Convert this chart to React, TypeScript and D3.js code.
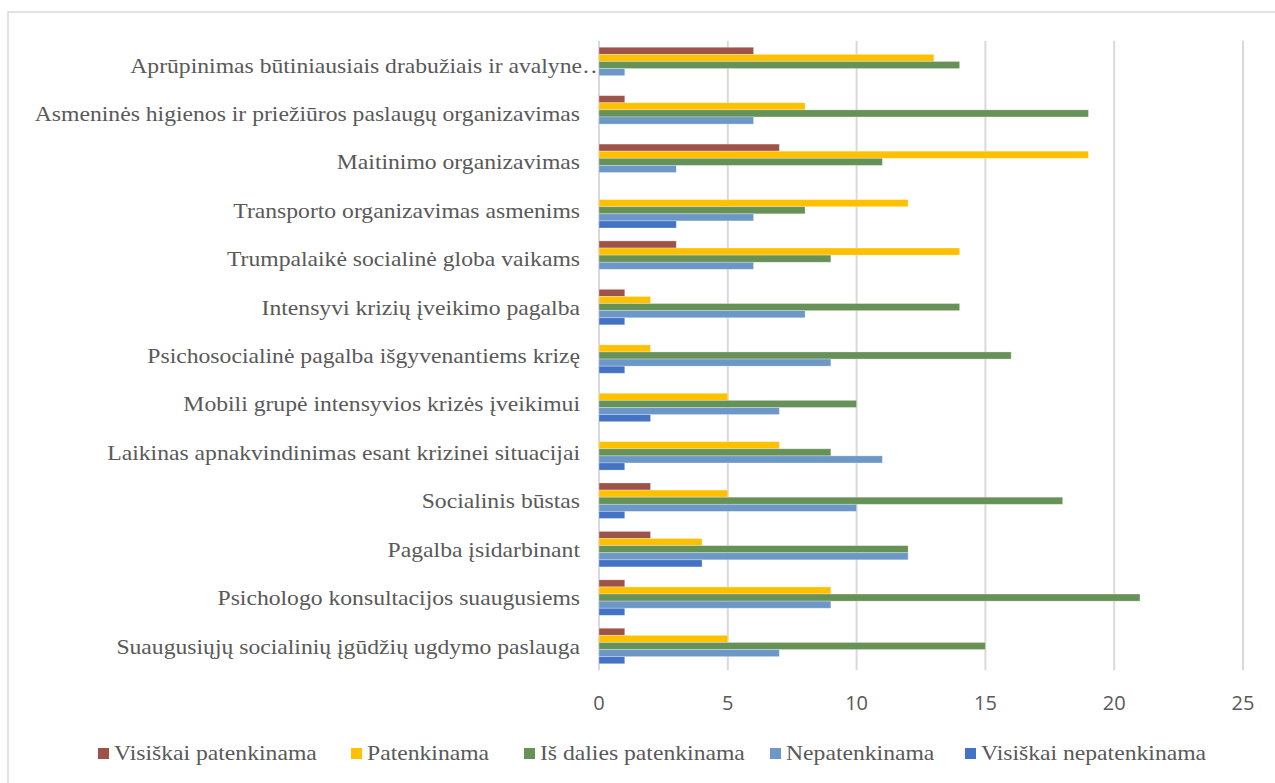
import React from "react";
import * as d3 from "d3";

const categories = [
  "Aprūpinimas būtiniausiais drabužiais ir avalyne",
  "Asmeninės higienos ir priežiūros paslaugų organizavimas",
  "Maitinimo organizavimas",
  "Transporto organizavimas asmenims",
  "Trumpalaikė socialinė globa vaikams",
  "Intensyvi krizių įveikimo pagalba",
  "Psichosocialinė pagalba išgyvenantiems krizę",
  "Mobili grupė intensyvios krizės įveikimui",
  "Laikinas apnakvindinimas esant krizinei situacijai",
  "Socialinis būstas",
  "Pagalba įsidarbinant",
  "Psichologo konsultacijos suaugusiems",
  "Suaugusiųjų socialinių įgūdžių ugdymo paslauga",
];
const truncated = [true, false, false, false, false, false, false, false, false, false, false, false, false];

const seriesNames = [
  "Visiškai patenkinama",
  "Patenkinama",
  "Iš dalies patenkinama",
  "Nepatenkinama",
  "Visiškai nepatenkinama",
];
const seriesColors = ["#9E5349", "#FFC000", "#669157", "#6C97C6", "#4472C4"];

const visiskaiPatenkinama = [6, 1, 7, 0, 3, 1, 0, 0, 0, 2, 2, 1, 1];
const patenkinama = [13, 8, 19, 12, 14, 2, 2, 5, 7, 5, 4, 9, 5];
const isDaliesPatenkinama = [14, 19, 11, 8, 9, 14, 16, 10, 9, 18, 12, 21, 15];
const nepatenkinama = [1, 6, 3, 6, 6, 8, 9, 7, 11, 10, 12, 9, 7];
const visiskaiNepatenkinama = [0, 0, 0, 3, 0, 1, 1, 2, 1, 1, 4, 1, 1];
const seriesValues = [
  visiskaiPatenkinama,
  patenkinama,
  isDaliesPatenkinama,
  nepatenkinama,
  visiskaiNepatenkinama,
];

const xTicks = [0, 5, 10, 15, 20, 25];

const legendX = [98, 351, 524, 770, 965];

const SERIF = "'Liberation Serif', 'Times New Roman', serif";

export default function App() {
  const W = 1275;
  const H = 783;
  const x = d3.scaleLinear().domain([0, 25]).range([599, 1243]);
  const y = d3.scaleBand<string>().domain(categories).range([40.8, 670.2]).padding(0);
  const bw = y.bandwidth();
  const barH = 7.1;
  const inner = d3
    .scaleBand<number>()
    .domain(d3.range(seriesNames.length))
    .range([(bw - barH * 5) / 2, (bw + barH * 5) / 2]);

  const grey = "#595959";
  const fs = 21.5;
  const sx = 1.1;
  return (
    <svg
      width={W}
      height={H}
      style={{ position: "absolute", left: 0, top: 0, background: "#fff" }}
    >
      <rect x={8} y={12} width={1300} height={800} fill="#fff" stroke="#d9d9d9" strokeWidth={1.5} />
      {xTicks.map((t) => (
        <line key={t} x1={x(t)} x2={x(t)} y1={40.8} y2={670.2} stroke="#d9d9d9" strokeWidth={2} />
      ))}
      {categories.map((c, ci) => (
        <g key={c} transform={`translate(0,${y(c)})`}>
          <g transform={`translate(${truncated[ci] ? 582 : 580},${bw / 2}) scale(${sx},1)`}>
            <text dy="0.35em" textAnchor="end" fontFamily={SERIF} fontSize={fs} fill={grey}>
              {c}
            </text>
            {truncated[ci] ? (
              <text dy="0.35em" textAnchor="start" fontFamily={SERIF} fontSize={fs} fill={grey} letterSpacing={-3}>
                …
              </text>
            ) : null}
          </g>
          {seriesValues.map((vals, si) =>
            vals[ci] > 0 ? (
              <rect
                key={si}
                x={x(0)}
                y={inner(si)}
                width={x(vals[ci]) - x(0)}
                height={inner.bandwidth()}
                fill={seriesColors[si]}
                stroke="#ffffff"
                strokeOpacity={0.35}
                strokeWidth={0.8}
              />
            ) : null
          )}
        </g>
      ))}
      {xTicks.map((t) => (
        <text
          key={t}
          x={x(t)}
          y={703}
          dy="0.35em"
          textAnchor="middle"
          fontFamily="'Open Sans', sans-serif"
          fontSize={20}
          fill={grey}
        >
          {t}
        </text>
      ))}
      {seriesNames.map((n, i) => (
        <g key={n} transform={`translate(${legendX[i]},752)`}>
          <rect x={0} y={-4} width={11} height={11} fill={seriesColors[i]} />
          <g transform={`translate(16,0) scale(${sx},1)`}>
            <text dy="0.35em" fontFamily={SERIF} fontSize={fs} fill={grey}>
              {n}
            </text>
          </g>
        </g>
      ))}
    </svg>
  );
}
